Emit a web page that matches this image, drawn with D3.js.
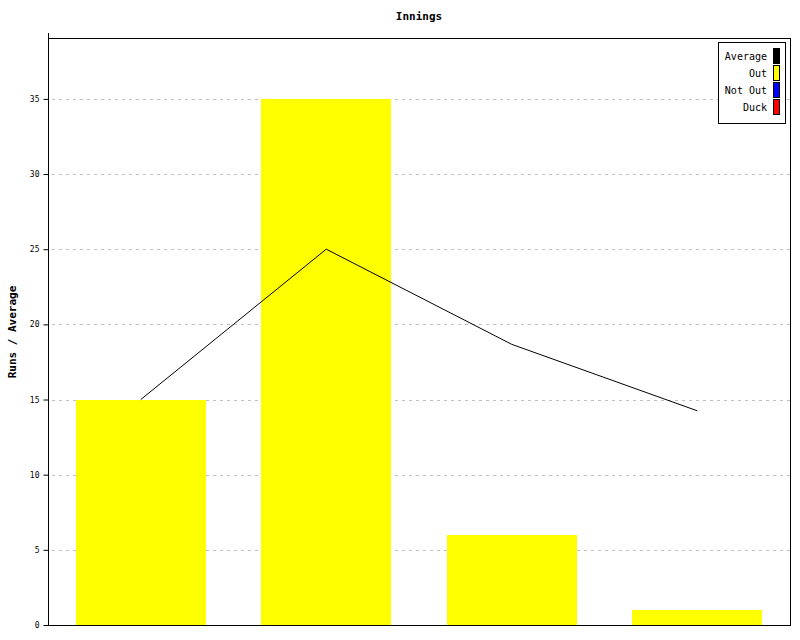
<!DOCTYPE html>
<html>
<head>
<meta charset="utf-8">
<script src="https://cdn.jsdelivr.net/npm/d3@7"></script>
<style>
body{margin:0;background:#fff;}
svg{display:block;}
text{font-family:"DejaVu Sans Mono","Liberation Mono",monospace;}
</style>
</head>
<body>
<svg id="chart" width="800" height="640"></svg>
<script>
const categories = ["1", "2", "3", "4"];
const outRuns = [15, 35, 6, 1];
const averages = [15, 25, 18.67, 14.25];
const yTicks = [0, 5, 10, 15, 20, 25, 30, 35];
const legendLabels = ["Average", "Out", "Not Out", "Duck"];
const legendColors = ["#000000", "#ffff00", "#0000ff", "#ff0000"];

const svg = d3.select("#chart");
const m = {left: 48, right: 790, top: 38, bottom: 625};

const x = d3.scaleBand().domain(categories).range([m.left, m.right]).paddingInner(0.3).paddingOuter(0.15);
const y = d3.scaleLinear().domain([0, 39.05]).range([m.bottom, m.top]);

// gridlines
svg.append("g").selectAll("line").data(yTicks.filter(d => d > 0)).join("line")
  .attr("x1", m.left + 4).attr("x2", m.right)
  .attr("y1", d => Math.round(y(d)) + 0.5).attr("y2", d => Math.round(y(d)) + 0.5)
  .attr("stroke", "#c0c0c0").attr("stroke-dasharray", "3,4");

// bars
svg.append("g").selectAll("rect").data(outRuns).join("rect")
  .attr("x", (d, i) => Math.round(x(categories[i])))
  .attr("width", Math.round(x.bandwidth()))
  .attr("y", d => Math.round(y(d)))
  .attr("height", d => m.bottom - Math.round(y(d)))
  .attr("fill", "#ffff00");

// average line
const line = d3.line().x((d, i) => x(categories[i]) + x.bandwidth() / 2).y(d => y(d));
svg.append("path").datum(averages).attr("d", line)
  .attr("fill", "none").attr("stroke", "#000").attr("stroke-width", 1);

// frame
svg.append("rect").attr("x", m.left + 0.5).attr("y", m.top + 0.5)
  .attr("width", m.right - m.left).attr("height", m.bottom - m.top)
  .attr("fill", "none").attr("stroke", "#000");

// y axis
const yAxis = d3.axisLeft(y).tickValues(yTicks).tickSize(5).tickPadding(4).tickFormat(d3.format("d"));
const ga = svg.append("g").attr("transform", `translate(${m.left + 0.5},0)`).call(yAxis);
ga.select(".domain").attr("d", `M0,33V${m.bottom + 0.5}`).attr("stroke", "#000");
ga.selectAll(".tick line").attr("stroke", "#000");
ga.selectAll(".tick text").attr("font-family", "DejaVu Sans Mono, monospace").attr("font-size", 8).attr("fill", "#000");

// title
svg.append("text").attr("x", 419).attr("y", 20).attr("text-anchor", "middle")
  .attr("font-size", 11).attr("font-weight", "bold").text("Innings");

// y label
svg.append("text").attr("transform", "translate(16,332) rotate(-90)").attr("text-anchor", "middle")
  .attr("font-size", 11).attr("font-weight", "bold").text("Runs / Average");

// legend
const lg = svg.append("g");
lg.append("rect").attr("x", 718.5).attr("y", 42.5).attr("width", 67).attr("height", 81)
  .attr("fill", "#fff").attr("stroke", "#000");
legendLabels.forEach((lab, i) => {
  const cy = 56 + i * 17;
  lg.append("text").attr("x", 767).attr("y", cy + 4).attr("text-anchor", "end")
    .attr("font-size", 10).text(lab);
  lg.append("rect").attr("x", 773.5).attr("y", cy - 7.5).attr("width", 6).attr("height", 15)
    .attr("fill", legendColors[i]).attr("stroke", "#000");
});
</script>
</body>
</html>
